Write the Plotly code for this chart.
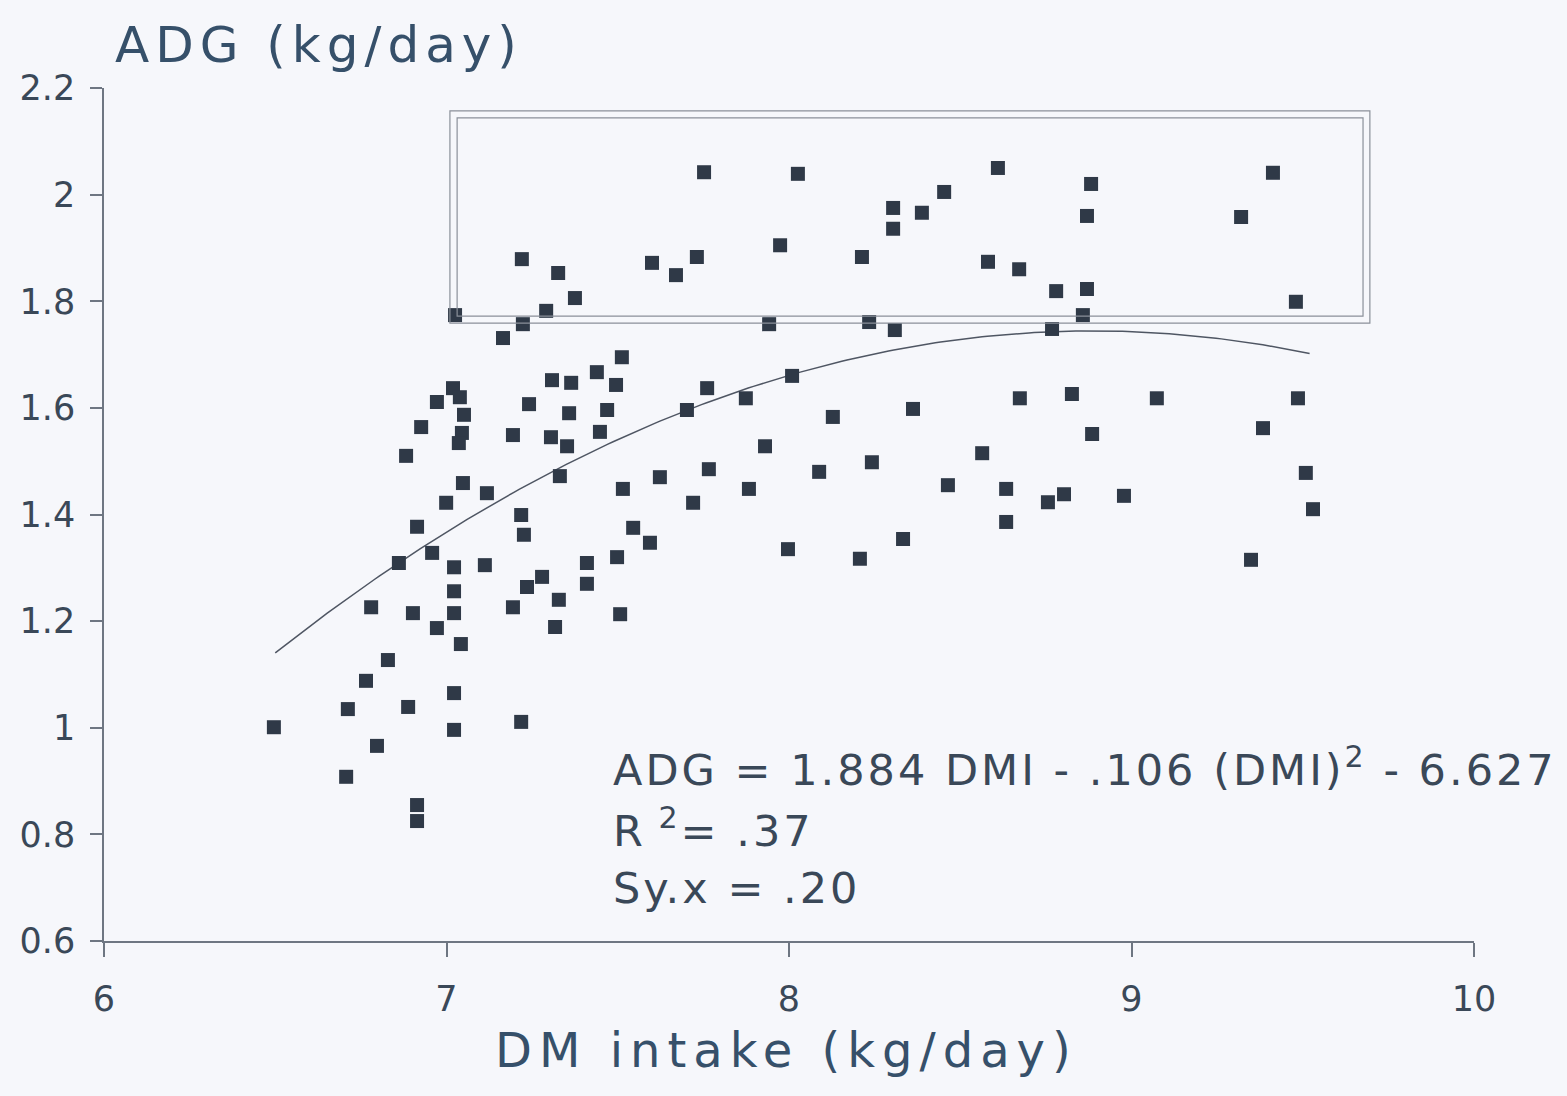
import numpy as np
import plotly.graph_objects as go

# ---- data ----
dmi = [6.496, 6.712, 6.707, 6.797, 6.765, 6.829, 6.780, 6.861, 6.882, 6.888,
       6.902, 6.914, 6.914, 6.914, 6.926, 6.958, 6.972, 6.972, 6.999, 7.019,
       7.025, 7.022, 7.022, 7.022, 7.022, 7.022, 7.039, 7.051, 7.045, 7.036,
       7.048, 7.042, 7.118, 7.112, 7.165, 7.194, 7.194, 7.220, 7.223, 7.218,
       7.226, 7.235, 7.218, 7.241, 7.291, 7.279, 7.308, 7.305, 7.326, 7.331,
       7.328, 7.317, 7.352, 7.358, 7.364, 7.375, 7.410, 7.410, 7.439, 7.448,
       7.469, 7.495, 7.498, 7.507, 7.512, 7.515, 7.545, 7.594, 7.600, 7.623,
       7.670, 7.702, 7.720, 7.731, 7.752, 7.761, 7.766, 7.874, 7.883, 7.930,
       7.942, 7.974, 7.997, 8.009, 8.026, 8.088, 8.128, 8.207, 8.213, 8.234,
       8.242, 8.304, 8.304, 8.309, 8.333, 8.362, 8.388, 8.453, 8.464, 8.564,
       8.581, 8.610, 8.634, 8.634, 8.672, 8.674, 8.756, 8.768, 8.780, 8.803,
       8.826, 8.858, 8.870, 8.870, 8.882, 8.885, 8.978, 9.074, 9.320, 9.349,
       9.384, 9.413, 9.480, 9.486, 9.509, 9.530]

adg = [1.001, 1.035, 0.908, 0.966, 1.088, 1.127, 1.226, 1.309, 1.510, 1.039,
       1.215, 1.377, 0.855, 0.825, 1.564, 1.328, 1.611, 1.187, 1.422, 1.637,
       1.774, 1.301, 1.256, 1.215, 1.065, 0.996, 1.620, 1.587, 1.553, 1.534,
       1.459, 1.157, 1.440, 1.305, 1.731, 1.549, 1.226, 1.879, 1.757, 1.399,
       1.362, 1.264, 1.011, 1.607, 1.782, 1.283, 1.652, 1.545, 1.853, 1.472,
       1.240, 1.189, 1.528, 1.590, 1.647, 1.806, 1.309, 1.270, 1.667, 1.555,
       1.596, 1.643, 1.320, 1.213, 1.695, 1.448, 1.375, 1.347, 1.872, 1.470,
       1.849, 1.596, 1.422, 1.883, 2.042, 1.637, 1.485, 1.618, 1.448, 1.528,
       1.757, 1.905, 1.335, 1.660, 2.039, 1.480, 1.583, 1.317, 1.883, 1.761,
       1.498, 1.975, 1.936, 1.746, 1.354, 1.598, 1.966, 2.005, 1.455, 1.515,
       1.874, 2.050, 1.386, 1.448, 1.860, 1.618, 1.423, 1.748, 1.819, 1.438,
       1.626, 1.774, 1.823, 1.960, 2.020, 1.551, 1.435, 1.618, 1.958, 1.315,
       1.562, 2.041, 1.799, 1.618, 1.478, 1.410]

# fitted quadratic printed on the chart: ADG = b1*DMI + b2*DMI^2 + b0
coef_b1 = 1.884
coef_b2 = -0.106
coef_b0 = -6.627
fit_range = [6.5, 9.52]

# highlighted region (double-lined box)
box_outer = dict(x0=7.010, x1=9.696, y0=1.759, y1=2.157)
box_inner = dict(x0=7.031, x1=9.676, y0=1.772, y1=2.144)

x_ticks = [6, 7, 8, 9, 10]
y_ticks = [0.6, 0.8, 1.0, 1.2, 1.4, 1.6, 1.8, 2.0, 2.2]
y_ticklabels = ["0.6", "0.8", "1", "1.2", "1.4", "1.6", "1.8", "2", "2.2"]
x_ticklabels = ["6", "7", "8", "9", "10"]

eq_lines = ["ADG = 1.884 DMI - .106 (DMI)<sup>2</sup> - 6.627",
            "R<sup> 2</sup>= .37",
            "Sy.x = .20"]
eq_y = [0.926, 0.812, 0.700]
eq_x = 7.48

# ---- styling ----
FONT = "DejaVu Sans, Liberation Sans, Arial, sans-serif"
TXT = "#3a4858"
TITLE = "#36506a"
AXIS = "#6e7682"
BG = "#f6f7fb"


def spaced(t, px):
    return f'<span style="letter-spacing:{px}px">{t}</span>'


xf = np.linspace(fit_range[0], fit_range[1], 200)
yf = coef_b1 * xf + coef_b2 * xf ** 2 + coef_b0

fig = go.Figure()
fig.add_trace(go.Scatter(x=xf, y=yf, mode="lines",
                         line=dict(color="#4f5663", width=1.5),
                         hoverinfo="skip", showlegend=False))
fig.add_trace(go.Scatter(x=dmi, y=adg, mode="markers",
                         marker=dict(symbol="square", size=14, color="#2f3947",
                                     line=dict(width=0)),
                         showlegend=False))

for b in (box_outer, box_inner):
    fig.add_shape(type="rect", xref="x", yref="y", **b,
                  line=dict(color="#8b909a", width=1.2), fillcolor="rgba(0,0,0,0)")

annotations = [
    dict(text=spaced("ADG (kg/day)", 6), xref="paper", yref="paper",
         x=0.0066, y=1.0504, xanchor="left", yanchor="middle", showarrow=False,
         font=dict(family=FONT, size=50, color=TITLE)),
    dict(text=spaced("DM intake (kg/day)", 7), xref="paper", yref="paper",
         x=0.4985, y=-0.128, xanchor="center", yanchor="middle", showarrow=False,
         font=dict(family=FONT, size=48, color=TITLE)),
]
for t, yy in zip(eq_lines, eq_y):
    annotations.append(dict(text=spaced(t, 3), xref="x", yref="y", x=eq_x, y=yy,
                            xanchor="left", yanchor="middle", showarrow=False,
                            font=dict(family=FONT, size=43, color=TXT)))

fig.update_layout(
    width=1567, height=1096,
    margin=dict(l=104, r=93, t=88, b=155, pad=0),
    paper_bgcolor=BG, plot_bgcolor=BG,
    font=dict(family=FONT, color=TXT),
    annotations=annotations,
    showlegend=False,
)
fig.update_xaxes(range=[6, 10], tickvals=x_ticks, ticktext=x_ticklabels,
                 showgrid=False, zeroline=False, showline=True,
                 linecolor=AXIS, linewidth=1.5, ticks="outside", ticklen=14,
                 tickwidth=1.5, tickcolor=AXIS, ticklabelstandoff=12,
                 tickfont=dict(family=FONT, size=35, color=TXT))
fig.update_yaxes(range=[0.6, 2.2], tickvals=y_ticks, ticktext=y_ticklabels,
                 showgrid=False, zeroline=False, showline=True,
                 linecolor=AXIS, linewidth=1.5, ticks="outside", ticklen=12,
                 tickwidth=1.5, tickcolor=AXIS, ticklabelstandoff=8,
                 tickfont=dict(family=FONT, size=35, color=TXT))

fig.write_html(
    "out.html",
    config={"displayModeBar": False},
    post_script="document.body.style.margin='0';document.body.style.background='#f6f7fb';",
)
